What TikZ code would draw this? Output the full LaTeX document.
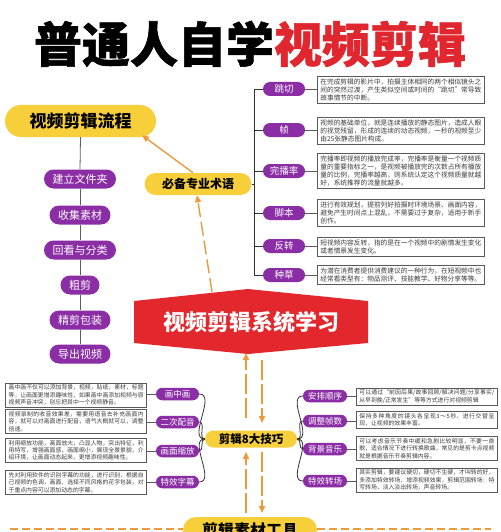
\documentclass[tikz,border=0pt]{standalone}
\usepackage{fontspec}
\newfontfamily\cjk{Noto Sans CJK SC}
\XeTeXlinebreaklocale "zh"
\XeTeXlinebreakskip=0pt plus 1pt
\usetikzlibrary{arrows.meta,shapes.misc}
\definecolor{yel}{HTML}{F7CF3B}
\definecolor{purp}{HTML}{8B2DA5}
\definecolor{hred}{HTML}{E2282C}
\definecolor{tred}{HTML}{E0262E}
\definecolor{org}{HTML}{EC9A3C}
\definecolor{txt}{HTML}{3C3C3C}
\definecolor{bord}{HTML}{5A5A5A}
\definecolor{treec}{HTML}{333333}
\tikzset{
  ypill/.style={rounded rectangle, fill=yel, text=black, inner sep=0pt},
  fpill/.style={rounded rectangle, fill=purp, text=white, inner sep=0pt, inner xsep=7pt, minimum height=19pt, font=\cjk\fontsize{11}{11}\selectfont},
  jpill/.style={rounded rectangle, fill=purp, text=white, inner sep=0pt, minimum width=42pt, minimum height=14pt, font=\cjk\fontsize{9.5}{9.5}\selectfont},
  bpill/.style={rounded rectangle, fill=purp, text=white, inner sep=0pt, minimum width=43pt, minimum height=12.5pt, font=\cjk\fontsize{8.5}{8.5}\selectfont},
  descA/.style={draw=bord, line width=0.7pt, fill=white, text=txt, font=\cjk\fontsize{6.7}{8.2}\selectfont, text width=161pt, align=justify, inner xsep=3pt, inner ysep=2pt, anchor=west},
  descB/.style={draw=bord, line width=0.7pt, fill=white, text=txt, font=\cjk\fontsize{5.85}{7.3}\selectfont, text width=135pt, align=justify, inner xsep=3pt, inner ysep=2pt},
  tree/.style={draw=treec, line width=0.8pt},
  link/.style={draw=bord, line width=0.7pt},
  oarr/.style={draw=org, line width=1.4pt, -{Triangle[length=7pt,width=6pt]}},
}
\begin{document}
\begin{tikzpicture}[x=1pt,y=-1pt]
\useasboundingbox (0,0) rectangle (500,532);
\clip (0,0) rectangle (500,532);
\fill[white] (0,0) rectangle (500,532);

% title
\node[font=\cjk\bfseries\addfontfeatures{FakeBold=1.2}\fontsize{48}{48}\selectfont, inner sep=0pt] (title) at (250,44) {普通人自学\textcolor{tred}{视频剪辑}};

% flow
\node[ypill, minimum width=151pt, minimum height=32pt, font=\cjk\bfseries\fontsize{17}{17}\selectfont] (flow) at (80.5,121) {视频剪辑流程};
\node[fpill] (f1) at (80,179) {建立文件夹};
\node[fpill] (f2) at (80,215) {收集素材};
\node[fpill] (f3) at (80,250) {回看与分类};
\node[fpill] (f4) at (80,285) {粗剪};
\node[fpill] (f5) at (80,320) {精剪包装};
\node[fpill] (f6) at (80,354) {导出视频};
\draw[tree, draw=treec!80] (flow.south) -- (f1.north);
\draw[tree, draw=treec!80] (f1.south) -- (f2.north);
\draw[tree, draw=treec!80] (f2.south) -- (f3.north);
\draw[tree, draw=treec!80] (f3.south) -- (f4.north);
\draw[tree, draw=treec!80] (f4.south) -- (f5.north);
\draw[tree, draw=treec!80] (f5.south) -- (f6.north);

% terms
\node[ypill, minimum width=107pt, minimum height=22pt, font=\cjk\bfseries\fontsize{12}{12}\selectfont] (term) at (198,184) {必备专业术语};

\node[jpill] (j1) at (284,89) {跳切};
\node[jpill] (j2) at (284,130) {帧};
\node[jpill] (j3) at (284,171) {完播率};
\node[jpill] (j4) at (284,213) {脚本};
\node[jpill] (j5) at (284,246) {反转};
\node[jpill] (j6) at (284,275) {种草};

\draw[tree] (term.east) -- ([xshift=-8pt]term.east -| j1.west);
\draw[tree] (j1.west) -- ++(-8,0) |- (j6.west);
\draw[tree] (j2.west) -- ++(-8,0);
\draw[tree] (j3.west) -- ++(-8,0);
\draw[tree] (j4.west) -- ++(-8,0);
\draw[tree] (j5.west) -- ++(-8,0);

\node[descA] (d1) at (317,90) {在完成剪辑的影片中，拍摄主体相同的两个相似镜头之间的突然过渡，产生类似空间或时间的“跳切”常导致故事情节的中断。};
\node[descA] (d2) at (317,131) {视频的基础单位，就是连续播放的静态图片，造成人眼的视觉残留，形成的连续的动态视频，一秒的视频至少由25张静态图片构成。};
\node[descA] (d3) at (317,171) {完播率即视频的播放完成率，完播率是衡量一个视频质量的重要指标之一，是视频被播放完的次数占所有播放量的比例，完播率越高，则系统认定这个视频质量就越好，系统推荐的流量就越多。};
\node[descA] (d4) at (317,213) {进行有效规划，提前列好拍摄时环境场景、画面内容，避免产生时间点上混乱，不需要过于复杂，适用于新手创作。};
\node[descA] (d5) at (317,247) {短视频内容反转，指的是在一个视频中的剧情发生变化或者情景发生变化。};
\node[descA] (d6) at (317,275) {为潜在消费者提供消费建议的一种行为，在短视频中也经常看类型有：物品测评、技能教学、好物分享等等。};
\draw[link] (j1.east) -- (d1.west |- j1.east);
\draw[link] (j2.east) -- (d2.west |- j2.east);
\draw[link] (j3.east) -- (d3.west |- j3.east);
\draw[link] (j4.east) -- (d4.west |- j4.east);
\draw[link] (j5.east) -- (d5.west |- j5.east);
\draw[link] (j6.east) -- (d6.west |- j6.east);

% arrows to term / flow
\draw[oarr] ([xshift=-5pt]term.north) -- ([xshift=2pt,yshift=2pt]flow.south east);
\coordinate (hexA) at (212,292);
\draw[oarr, dash pattern=on 14pt off 5pt] (hexA) -- ([xshift=-1pt]term.south);

% hexagon
\fill[hred] (134,301) -- (248,289) -- (368,301) -- (368,343) -- (248,354) -- (134,343) -- cycle;
\node[text=white, font=\cjk\bfseries\fontsize{22}{22}\selectfont, inner sep=0pt] (hex) at (251,322) {视频剪辑系统学习};

% tips
\node[ypill, minimum width=92pt, minimum height=17pt, font=\cjk\bfseries\fontsize{11.5}{11.5}\selectfont] (tips) at (251,439) {剪辑8大技巧};
\coordinate (hexUp) at (246,353);
\coordinate (hexDn) at (262,360);
\coordinate (tipUp) at (246,418);
\coordinate (tipDn) at (262,423);
\draw[oarr, dash pattern=on 20pt off 4pt] (tipUp) -- (hexUp);
\draw[oarr, dash pattern=on 20pt off 4pt] (hexDn) -- (tipDn);

% left branches
\node[bpill] (l1) at (177.5,394) {画中画};
\node[bpill] (l2) at (177.5,422) {二次配音};
\node[bpill] (l3) at (177.5,451) {画面缩放};
\node[bpill] (l4) at (177.5,482) {特效字幕};
\foreach \n in {l1,l2,l3,l4} \draw[tree] (tips.west) to[out=180,in=0] (\n.east);

\node[descB, anchor=east] (e1) at (147,395) {画中画不仅可以添加背景，视频，贴纸，素材，标题等，让画面更增添趣味性，如果画中画添加视频与原视频声音冲突，别忘把其中一个视频静音。};
\node[descB, anchor=east] (e2) at (147,421.5) {视频录制的收音效果差，需要用语音去补充画面内容，就可以对画面进行配音，语气大概就可以，调整倍速。};
\node[descB, anchor=east] (e3) at (147,450.5) {利用缩放功能，画面放大，凸显人物，突出特征，利用特写，增强画面感，画面缩小，展现全景景貌，介绍环境，让画面动态起来，更增添视频趣味性。};
\node[descB, anchor=east] (e4) at (147,482.5) {先对利用软件的识别字幕的功能，进行识别，根据自己视频的色调，画面，选择不同风格的花字包装，对于重点内容可以添加动态的字幕。};
\draw[link] (l1.west) -- (e1.east |- l1.west);
\draw[link] (l2.west) -- (e2.east |- l2.west);
\draw[link] (l3.west) -- (e3.east |- l3.west);
\draw[link] (l4.west) -- (e4.east |- l4.west);

% right branches
\node[bpill, minimum width=44pt] (r1) at (325,396) {安排顺序};
\node[bpill, minimum width=44pt] (r2) at (325,421) {调整帧数};
\node[bpill, minimum width=44pt] (r3) at (325,449) {背景音乐};
\node[bpill, minimum width=44pt] (r4) at (325,481) {特效转场};
\foreach \n in {r1,r2,r3,r4} \draw[tree] (tips.east) to[out=0,in=180] (\n.west);

\node[descB, anchor=west] (g1) at (356,396.5) {可以通过“前因后果/故事回顾/解决问题/分享事实/从早到晚/正常发生”等等方式进行对视频剪辑};
\node[descB, anchor=west] (g2) at (356,420) {保持多种角度的镜头各呈现3～5秒，进行交替呈现，让视频的效果丰富。};
\node[descB, anchor=west] (g3) at (356,448.5) {可以考虑音乐节奏中缓和急剧比较明显，不要一首歌，适合情况下进行转换歌曲，常见的是剪卡点视频就是根据音乐节奏剪辑内容。};
\node[descB, anchor=west] (g4) at (356,480) {其实剪辑，要建议硬切，硬切不生硬，才叫转的好，多添加特效转场，增添视频效果，剪辑范围转场：特写转场，淡入淡出转场，声音转场。};
\draw[link] (r1.east) -- (g1.west |- r1.east);
\draw[link] (r2.east) -- (g2.west |- r2.east);
\draw[link] (r3.east) -- (g3.west |- r3.east);
\draw[link] (r4.east) -- (g4.west |- r4.east);

% tools
\node[ypill, minimum width=134pt, minimum height=26pt, font=\cjk\bfseries\fontsize{16}{16}\selectfont] (tools) at (250,530) {剪辑素材工具};
\coordinate (tlUp) at (246,513);
\coordinate (tlDn) at (262,513);
\coordinate (tpUp) at (246,452);
\coordinate (tpDn) at (262,452);
\draw[oarr, dash pattern=on 20pt off 4pt] (tlUp) -- (tpUp);
\draw[oarr, dash pattern=on 20pt off 4pt] (tpDn) -- (tlDn);
\coordinate (dl) at (10,529);
\coordinate (dr) at (491,529);
\draw[org, line width=2pt, dash pattern=on 8pt off 4pt] (dl) -- (dl -| tools.west);
\draw[org, line width=2pt, dash pattern=on 8pt off 4pt] (tools.east |- dr) -- (dr);
\end{tikzpicture}
\end{document}
